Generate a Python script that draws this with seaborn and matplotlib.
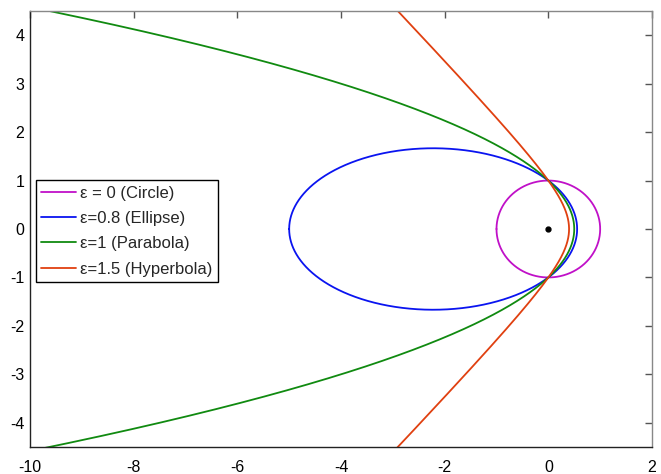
import numpy as np
import pandas as pd
import matplotlib
matplotlib.use("Agg")
import matplotlib.pyplot as plt
import seaborn as sns

# Data: conic sections r = p / (1 + e cos(theta)) with focus at origin
eccentricities = [0.0, 0.8, 1.0, 1.5]
labels = ["\u03b5 = 0 (Circle)", "\u03b5=0.8 (Ellipse)", "\u03b5=1 (Parabola)", "\u03b5=1.5 (Hyperbola)"]
colors = ["#c010c8", "#0a14f0", "#108a10", "#e04010"]
semi_latus = 1.0
x_ticks = [-10, -8, -6, -4, -2, 0, 2]
y_ticks = [-4, -3, -2, -1, 0, 1, 2, 3, 4]
focus = (0.0, 0.0)

sns.set_theme(style="white")
plt.rcParams['font.family'] = ['Liberation Sans', 'DejaVu Sans']
plt.rcParams['axes.unicode_minus'] = False

fig = plt.figure(figsize=(6.61, 4.74), dpi=100)
ax = fig.add_axes([30/661, 27/474, 622/661, 436/474])

theta = np.linspace(-np.pi, np.pi, 20001)
for e, lab, col in zip(eccentricities, labels, colors):
    denom = 1 + e * np.cos(theta)
    mask = denom > 1e-3
    r = semi_latus / denom[mask]
    th = theta[mask]
    keep = r < 60
    r, th = r[keep], th[keep]
    df = pd.DataFrame({"x": r * np.cos(th), "y": r * np.sin(th)})
    sns.lineplot(data=df, x="x", y="y", sort=False, estimator=None,
                 color=col, label=lab, lw=1.3, ax=ax)

ax.plot([focus[0]], [focus[1]], 'o', color='black', ms=3.5)

ax.set_xlim(-10, 2)
ax.set_ylim(-4.5, 4.5)
ax.set_xticks(x_ticks)
ax.set_yticks(y_ticks)
ax.set_xlabel("")
ax.set_ylabel("")
ax.tick_params(direction='in', length=5, width=1, color='#555555',
               top=True, right=True, labelsize=11.5, labelcolor='black', pad=4)
ax.tick_params(axis='x', pad=9)
for s in ax.spines.values():
    s.set_color('#222222')
    s.set_linewidth(1)
ax.spines['top'].set_color('#888888')
ax.spines['right'].set_color('#888888')

leg = ax.legend(loc='upper left', bbox_to_anchor=(0.009, 0.613), frameon=True,
                fontsize=12, fancybox=False, borderpad=0.35, handlelength=2.1,
                labelspacing=0.62, handletextpad=0.2, borderaxespad=0)
leg.get_frame().set_edgecolor('black')
leg.get_frame().set_linewidth(1)
leg.get_frame().set_alpha(1)

fig.savefig("out.png", dpi=100)
